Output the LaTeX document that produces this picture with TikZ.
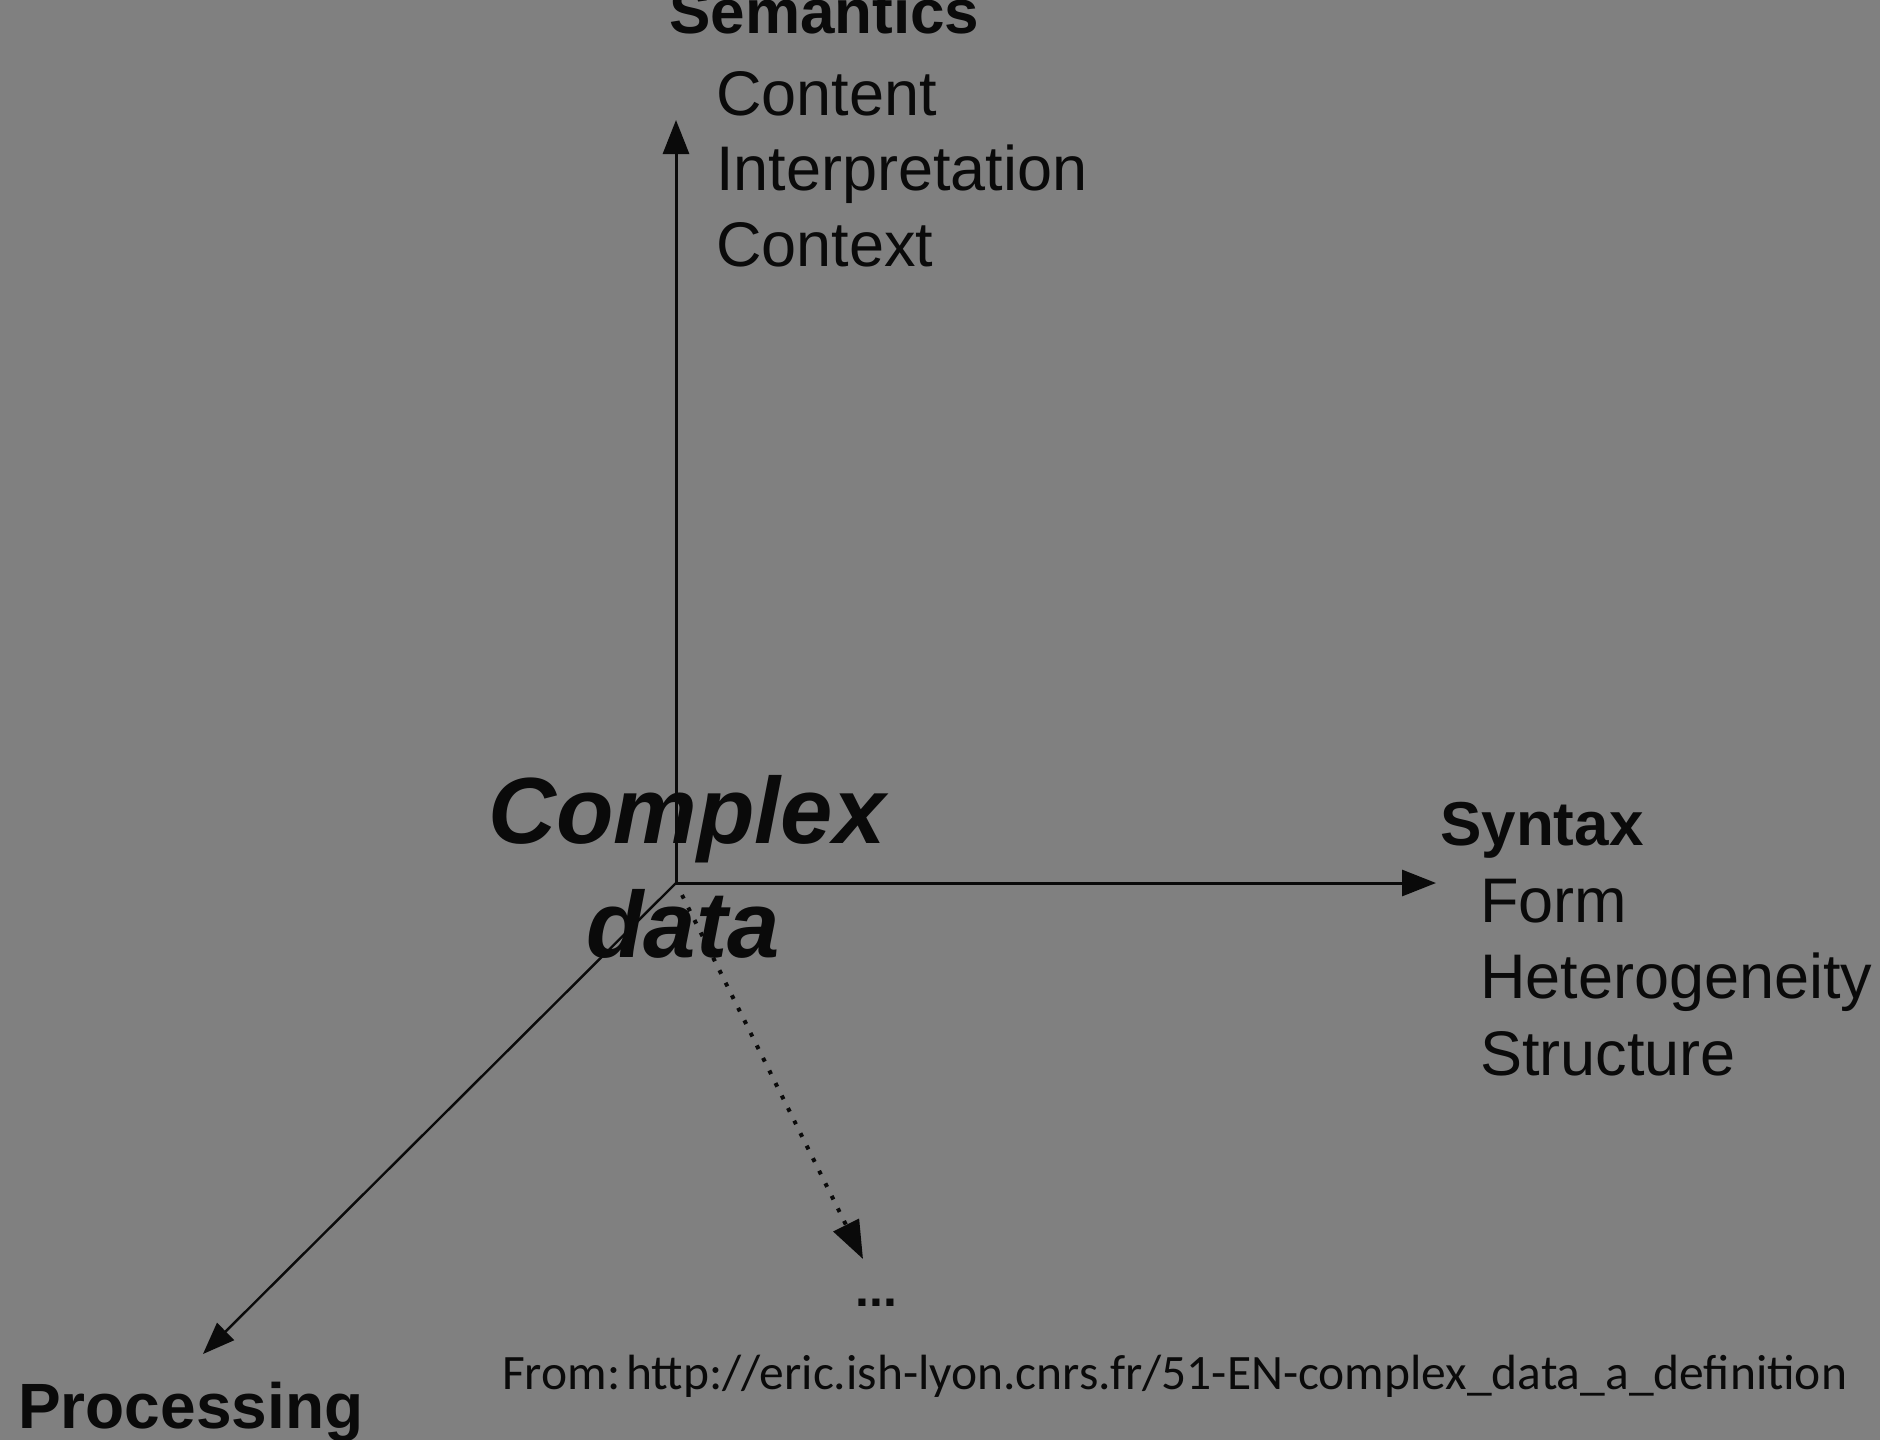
\documentclass[tikz,border=0pt]{standalone}
\usepackage{fontspec}
\setmainfont{Liberation Sans}
\newfontfamily\fromfont{Carlito}
\usetikzlibrary{arrows.meta}
\definecolor{bg}{HTML}{808080}
\definecolor{ink}{HTML}{0A0A0A}
\begin{document}
\begin{tikzpicture}[x=1pt,y=-1pt,
  lbl/.style={anchor=base west,inner sep=0pt,text=ink},
  head/.style={lbl,font=\fontsize{62}{70}\selectfont\bfseries},
  item/.style={lbl,font=\fontsize{63}{70}\selectfont},
  axis/.style={draw=ink,line width=3pt,-{Triangle[length=34pt,width=26pt]}},
  thinaxis/.style={draw=ink,line width=2.4pt,-{Triangle[length=32pt,width=24pt]}},
  dotaxis/.style={draw=ink,line width=4pt,dash pattern=on 4pt off 10pt,-{Triangle[length=38pt,width=28pt]}},
  big/.style={anchor=base,inner sep=0pt,text=ink,font=\fontsize{94}{100}\selectfont\bfseries\itshape}]
\path[fill=bg,use as bounding box] (0,0) rectangle (1880,1440);
% axes
\coordinate (O) at (676,883);
\coordinate (Odot) at (682,895);
\coordinate (semtip) at (676,120);
\coordinate (syntip) at (1436,883);
\coordinate (proctip) at (203,1354);
\coordinate (dottip) at (863,1259);
\draw[axis] (O) -- (semtip);
\draw[axis] (O) -- (syntip);
\draw[thinaxis] (O) -- (proctip);
\draw[dotaxis] (Odot) -- (dottip);
% centre label
\node[big] (cplx) at (687,843) {Complex};
\node[big] (data) at (683,957) {data};
% semantics
\node[head] (sem) at (669,34) {Semantics};
\node[item] (content) at (716,115) {Content};
\node[item] (interp) at (716,190) {Interpretation};
\node[item] (context) at (716,266) {Context};
% syntax
\node[head] (syn) at (1440,845) {Syntax};
\node[item] (form) at (1480,922) {Form};
\node[item] (het) at (1480,998) {Heterogeneity};
\node[item] (struct) at (1480,1075) {Structure};
% processing
\node[head,font=\fontsize{64}{70}\selectfont\bfseries] (proc) at (18,1428) {Processing};
% dots
\node[lbl,font=\fontsize{50}{50}\selectfont\bfseries] (more) at (855,1306) {...};
% source
\node[lbl,font=\fontsize{49.5}{56}\selectfont\fromfont] (src) at (502,1389) {From:\hspace{0.12em}http://eric.ish-lyon.cnrs.fr/51-EN-complex\_data\_a\_definition};
\end{tikzpicture}
\end{document}
